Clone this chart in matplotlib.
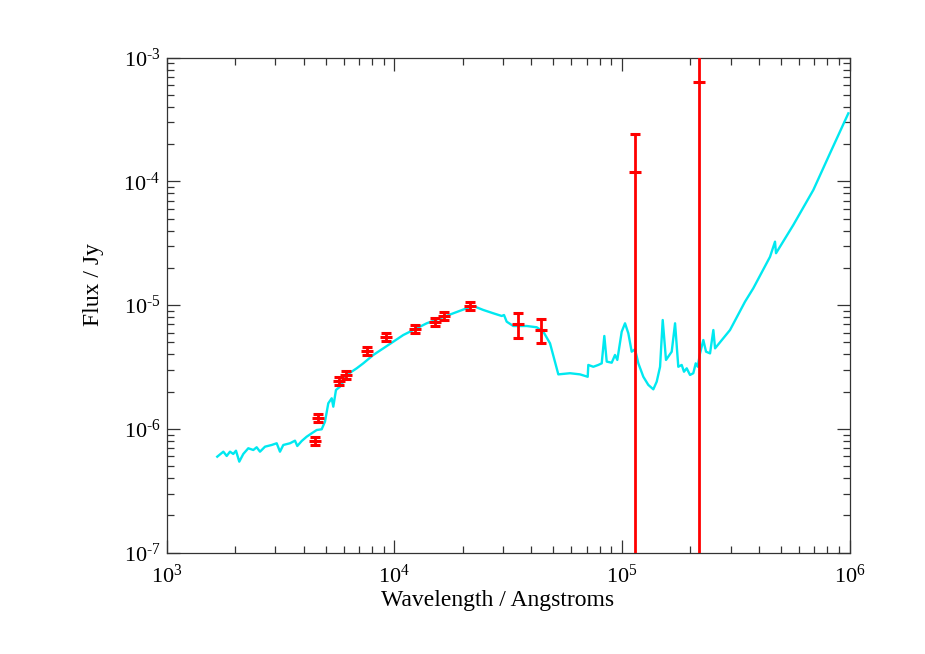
import math
import matplotlib
matplotlib.use('Agg')
import matplotlib.pyplot as plt
from matplotlib.ticker import LogLocator, FuncFormatter, NullFormatter

# model spectrum (Angstrom, Jy)
modelWave = [1668, 1774, 1835, 1897, 1961, 2016, 2084, 2171, 2283, 2402, 2485, 2570, 2704, 2893,
             3043, 3146, 3253, 3481, 3662, 3748, 3919, 4122, 4336, 4561, 4797, 4960, 5129, 5309,
             5395, 5543, 5772, 5968, 6178, 6836, 7306, 8084, 8947, 9899, 1.095e4, 1.212e4,
             1.388e4, 1.588e4, 1.816e4, 2.080e4, 2.224e4, 2.46e4, 2.723e4, 2.965e4, 3.034e4,
             3.117e4, 3.333e4, 3.817e4, 4.224e4, 4.515e4, 4.832e4, 5.256e4, 5.916e4, 6.546e4,
             7.075e4, 7.119e4, 7.487e4, 7.877e4, 8.152e4, 8.37e4, 8.576e4, 9.02e4, 9.326e4,
             9.546e4, 9.98e4, 1.032e5, 1.067e5, 1.104e5, 1.142e5, 1.181e5, 1.242e5, 1.306e5,
             1.374e5, 1.422e5, 1.471e5, 1.511e5, 1.562e5, 1.655e5, 1.712e5, 1.769e5, 1.831e5,
             1.874e5, 1.926e5, 1.992e5, 2.059e5, 2.11e5, 2.153e5, 2.204e5, 2.279e5, 2.342e5,
             2.439e5, 2.522e5, 2.566e5, 2.985e5, 3.474e5, 3.778e5, 4.474e5, 4.706e5, 4.754e5,
             5.664e5, 6.934e5, 8.211e5, 9.88e5]
modelFlux = [5.97e-7, 6.55e-7, 6.05e-7, 6.55e-7, 6.28e-7, 6.67e-7, 5.44e-7, 6.28e-7, 6.98e-7,
             6.76e-7, 7.11e-7, 6.55e-7, 7.19e-7, 7.42e-7, 7.66e-7, 6.55e-7, 7.42e-7, 7.66e-7,
             8.04e-7, 7.28e-7, 7.99e-7, 8.66e-7, 9.22e-7, 9.80e-7, 9.94e-7, 1.145e-6, 1.612e-6,
             1.769e-6, 1.513e-6, 2.064e-6, 2.195e-6, 2.41e-6, 2.73e-6, 3.09e-6, 3.39e-6, 3.96e-6,
             4.48e-6, 5.07e-6, 5.74e-6, 6.30e-6, 7.14e-6, 7.83e-6, 8.60e-6, 9.44e-6, 9.85e-6,
             9.15e-6, 8.60e-6, 8.18e-6, 8.33e-6, 7.36e-6, 6.79e-6, 6.79e-6, 6.63e-6, 6.11e-6,
             4.92e-6, 2.76e-6, 2.82e-6, 2.76e-6, 2.64e-6, 3.29e-6, 3.18e-6, 3.29e-6, 3.39e-6,
             5.64e-6, 3.50e-6, 3.43e-6, 3.96e-6, 3.61e-6, 6.11e-6, 7.14e-6, 5.93e-6, 4.21e-6,
             4.40e-6, 3.39e-6, 2.64e-6, 2.27e-6, 2.09e-6, 2.41e-6, 3.18e-6, 7.59e-6, 3.61e-6,
             4.21e-6, 7.14e-6, 3.18e-6, 3.29e-6, 2.90e-6, 3.09e-6, 2.73e-6, 2.82e-6, 3.39e-6,
             3.18e-6, 4.08e-6, 5.23e-6, 4.21e-6, 4.08e-6, 6.30e-6, 4.48e-6, 6.30e-6, 1.067e-5,
             1.37e-5, 2.46e-5, 3.26e-5, 2.63e-5, 4.45e-5, 8.53e-5, 1.69e-4, 3.55e-4]

# photometry
obsWave = [4488, 4634, 5727, 6109, 7567, 9160, 1.233e4, 1.514e4, 1.659e4, 2.153e4,
           3.51e4, 4.40e4, 1.146e5, 2.19e5]
obsFlux = [8.0e-7, 1.23e-6, 2.45e-6, 2.73e-6, 4.28e-6, 5.53e-6, 6.43e-6, 7.31e-6, 8.22e-6,
           9.9e-6, 7.02e-6, 6.34e-6, 1.19e-4, 6.33e-4]
obsErr = [6.4e-8, 9.8e-8, 1.9e-7, 2.1e-7, 3.2e-7, 4.2e-7, 4.9e-7, 5.5e-7, 6.2e-7,
          7.4e-7, 1.55e-6, 1.43e-6, 1.22e-4, 6.5e-4]

plt.rcParams['font.family'] = ['Liberation Serif', 'DejaVu Serif']
plt.rcParams['mathtext.fontset'] = 'custom'
plt.rcParams['mathtext.rm'] = 'Liberation Serif'
plt.rcParams['mathtext.it'] = 'Liberation Serif'

fig = plt.figure(figsize=(9.25, 6.54), dpi=100)
ax = fig.add_axes([0.1802, 0.1549, 0.9184 - 0.1802, 0.9118 - 0.1549])

ax.plot(modelWave, modelFlux, color='#00e8f0', lw=1.7, zorder=2)
ax.errorbar(obsWave, obsFlux, yerr=obsErr, fmt='_', color='red', ecolor='red',
            markersize=8, mew=2.2, elinewidth=2.0, capsize=3.5, capthick=2.0, zorder=3)

ax.set_xscale('log')
ax.set_yscale('log')
ax.set_xlim(1e3, 1e6)
ax.set_ylim(1e-7, 1e-3)


def powFmt(v, pos):
    e = int(round(math.log10(v)))
    return r'$\mathdefault{10^{%s}}$' % (str(e).replace('-', '\u2010'))


for axis in [ax.xaxis, ax.yaxis]:
    axis.set_major_locator(LogLocator(base=10))
    axis.set_minor_locator(LogLocator(base=10, subs=range(2, 10)))
    axis.set_major_formatter(FuncFormatter(powFmt))
    axis.set_minor_formatter(NullFormatter())

ax.tick_params(which='both', direction='in', top=True, right=True, colors='#333333',
               labelcolor='black', labelsize=16)
ax.tick_params(which='major', length=9.5, width=0.9)
ax.tick_params(which='minor', length=5, width=0.9)
ax.tick_params(axis='x', which='major', pad=8.5)
ax.tick_params(axis='y', which='major', pad=4.5)
for s in ax.spines.values():
    s.set_color('#333333')
    s.set_linewidth(0.9)

ax.set_xlabel('Wavelength / Angstroms', fontsize=17)
ax.set_ylabel('Flux / Jy', fontsize=17)
ax.xaxis.set_label_coords(0.4845, -0.075)
ax.yaxis.set_label_coords(-0.092, 0.541)

fig.savefig('out.png', dpi=100)
